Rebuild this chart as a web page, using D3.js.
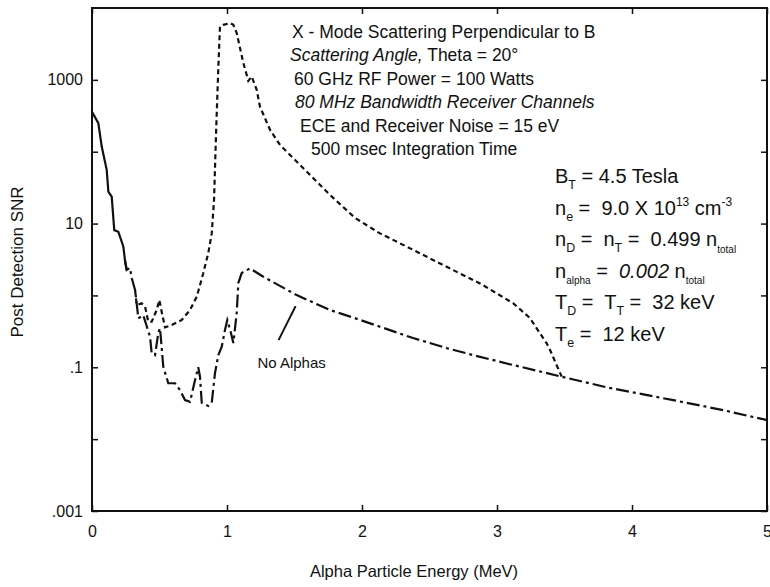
<!DOCTYPE html>
<html><head><meta charset="utf-8">
<script src="https://cdn.jsdelivr.net/npm/d3@7"></script>
<style>
body{margin:0;background:#fff}
svg{display:block;background:#fff}
text{font-family:"Liberation Sans",Arial,Helvetica,sans-serif;fill:#111;white-space:pre}
</style>
</head><body>
<svg id="c" width="770" height="587"></svg>
<script>
// ---------------- data ----------------
const energyNoAlpha = [0,0.047,0.072,0.109,0.121,0.146,0.165,0.195,0.232,0.244,0.257,0.281,0.294,0.319,0.331,0.343,0.380,0.430,0.442,0.467,0.491,0.504,0.528,0.565,0.615,0.652,0.689,0.726,0.763,0.787,0.800,0.813,0.861,0.887,0.911,0.936,0.961,0.985,1.002,1.027,1.047,1.072,1.084,1.109,1.170,1.269,1.516,1.763,1.973,2.133,2.378,2.627,2.822,3.072,3.479,3.813,4.306,4.676,5.0];
const snrNoAlpha = [358,250,118,56,27.8,23.7,8.1,7.7,4.8,3.1,2.26,2.41,1.75,1.19,0.776,0.48,0.53,0.266,0.158,0.148,0.30,0.35,0.102,0.060,0.060,0.048,0.035,0.033,0.066,0.10,0.074,0.032,0.029,0.032,0.083,0.148,0.193,0.33,0.454,0.312,0.217,0.569,1.49,2.05,2.38,1.82,1.01,0.627,0.465,0.367,0.255,0.185,0.148,0.113,0.074,0.0525,0.0349,0.0253,0.0184];
const energyAlpha = [0.319,0.331,0.368,0.393,0.417,0.442,0.479,0.499,0.516,0.541,0.590,0.664,0.726,0.776,0.824,0.861,0.874,0.887,0.904,0.919,0.936,0.948,0.973,1.022,1.047,1.072,1.121,1.158,1.183,1.220,1.244,1.319,1.393,1.541,1.763,1.948,2.133,2.380,2.627,2.874,3.121,3.244,3.269,3.368,3.393,3.479];
const snrAlpha = [1.19,0.735,0.776,0.70,0.43,0.43,0.627,0.863,0.593,0.36,0.387,0.454,0.627,0.96,2.03,3.86,5.3,7.3,21.3,183,1531,5520,5830,6170,5830,4470,1725,969,1112,726,425,201,124,65.5,25,12,7.3,4.3,2.5,1.47,0.776,0.485,0.41,0.215,0.174,0.074];
const solidUntil = 0.25;           // No-alpha curve drawn solid below this energy

const xTickValues = [0,1,2,3,4,5];
const xTickLabels = ["0","1","2","3","4","5"];
const yTickValues = [0.001,0.1,10,1000];
const yTickLabels = [".001",".1","10","1000"];
const yDecades = [0.001,0.01,0.1,1,10,100,1000];

const xLabel = "Alpha Particle Energy (MeV)";
const yLabel = "Post Detection SNR";
const header = [
  {x:292, parts:[["X - Mode Scattering Perpendicular to B","n"]]},
  {x:290, parts:[["Scattering Angle,","i"],[" Theta = 20°","n"]]},
  {x:294, parts:[["60 GHz RF Power = 100 Watts","n"]]},
  {x:295, parts:[["80 MHz Bandwidth Receiver Channels","i"]]},
  {x:300, parts:[["ECE and Receiver Noise = 15 eV","n"]]},
  {x:311, parts:[["500 msec Integration Time","n"]]}
];
const params = [
  [["B","n"],["T","sub"],[" = 4.5 Tesla","n"]],
  [["n","n"],["e","sub"],[" =  9.0 X 10","n"],["13","sup"],[" cm","n"],["-3","sup"]],
  [["n","n"],["D","sub"],[" =  n","n"],["T","sub"],[" =  0.499 n","n"],["total","sub2"]],
  [["n","n"],["alpha","sub2"],[" =  ","n"],["0.002","i"],[" n","n"],["total","sub2"]],
  [["T","n"],["D","sub"],[" =  T","n"],["T","sub"],[" =  32 keV","n"]],
  [["T","n"],["e","sub"],[" =  12 keV","n"]]
];
const noAlphaLabel = {text:"No Alphas", e:1.225, v:0.0975};
const noAlphaLeader = [{e:1.382, v:0.239},{e:1.508, v:0.711}];

// ---------------- chart ----------------
const svg = d3.select("#c");
const P = {left:92, right:767, top:8, bottom:511};
const x = d3.scaleLinear().domain([0,5]).range([P.left,P.right]);
const y = d3.scaleLog().domain([1e-3,1e4]).range([P.bottom,P.top]);

// axes (inward ticks)
const gB = svg.append("g").attr("transform",`translate(0,${P.bottom})`)
  .call(d3.axisBottom(x).tickValues(xTickValues).tickFormat((d,i)=>xTickLabels[i]).tickSizeInner(-6).tickSizeOuter(0).tickPadding(15));
const gL = svg.append("g").attr("transform",`translate(${P.left},0)`)
  .call(d3.axisLeft(y).tickValues(yDecades).tickFormat(d=>{const i=yTickValues.indexOf(d);return i<0?"":yTickLabels[i];}).tickSizeInner(-6).tickSizeOuter(0).tickPadding(9));
const gT = svg.append("g").attr("transform",`translate(0,${P.top})`)
  .call(d3.axisTop(x).tickValues(xTickValues).tickFormat("").tickSizeInner(-6).tickSizeOuter(0));
const gR = svg.append("g").attr("transform",`translate(${P.right},0)`)
  .call(d3.axisRight(y).tickValues(yDecades).tickFormat("").tickSizeInner(-6).tickSizeOuter(0));
[gB,gL,gT,gR].forEach(g=>{
  g.select(".domain").remove();
  g.selectAll(".tick line").attr("stroke","#111").attr("stroke-width",1.5);
  g.selectAll(".tick text").attr("fill","#111").attr("font-size",16).attr("font-family","Liberation Sans, Arial, sans-serif");
});

// frame
svg.append("rect").attr("x",P.left).attr("y",P.top).attr("width",P.right-P.left).attr("height",P.bottom-P.top)
  .attr("fill","none").attr("stroke","#111").attr("stroke-width",2);

// curves
const line = d3.line().x(d=>x(d[0])).y(d=>y(d[1]));
const noA = energyNoAlpha.map((e,i)=>[e,snrNoAlpha[i]]);
const solidPart = noA.filter(d=>d[0]<=solidUntil+0.01);
const dashPart = noA.filter(d=>d[0]>=solidUntil-0.01);
svg.append("path").attr("d",line(solidPart)).attr("fill","none").attr("stroke","#111").attr("stroke-width",2.2);
svg.append("path").attr("d",line(dashPart)).attr("fill","none").attr("stroke","#111").attr("stroke-width",2.2)
  .attr("stroke-dasharray","13,4,3,4");
const withA = energyAlpha.map((e,i)=>[e,snrAlpha[i]]);
svg.append("path").attr("d",line(withA)).attr("fill","none").attr("stroke","#111").attr("stroke-width",2.2)
  .attr("stroke-dasharray","5,3.5");

// rich text helper
function rich(g, x0, y0, parts, size){
  const t = g.append("text").attr("x",x0).attr("y",y0).attr("font-size",size);
  let cur = 0;
  parts.forEach(([s,m])=>{
    let off = 0, fs = size, style="normal";
    if(m==="sub"){off = size*0.3; fs = size*0.62;}
    if(m==="sub2"){off = size*0.32; fs = size*0.5;}
    if(m==="sup"){off = -size*0.42; fs = size*0.6;}
    if(m==="i"){style="italic";}
    t.append("tspan").attr("dy",off-cur).attr("font-size",fs).attr("font-style",style).text(s);
    cur = off;
  });
  return t;
}

// header block
header.forEach((h,i)=>rich(svg, h.x, 37.5+i*23.5, h.parts, 17.5));
// parameter block
params.forEach((p,i)=>rich(svg, 555, 183+i*31.6, p, 20));

// "No Alphas" label and leader
svg.append("text").attr("x",x(noAlphaLabel.e)).attr("y",y(noAlphaLabel.v)).attr("font-size",15).text(noAlphaLabel.text);
svg.append("line").attr("x1",x(noAlphaLeader[0].e)).attr("y1",y(noAlphaLeader[0].v))
  .attr("x2",x(noAlphaLeader[1].e)).attr("y2",y(noAlphaLeader[1].v)).attr("stroke","#111").attr("stroke-width",2);

// axis titles
svg.append("text").attr("x",414).attr("y",577).attr("text-anchor","middle").attr("font-size",16.5).text(xLabel);
svg.append("text").attr("transform","translate(23,262) rotate(-90)").attr("text-anchor","middle").attr("font-size",17).text(yLabel);
</script>
</body></html>
